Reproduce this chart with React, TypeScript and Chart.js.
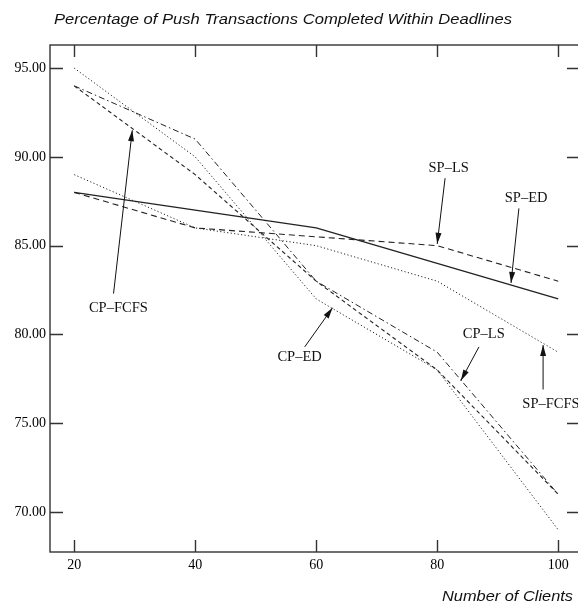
import React, { useEffect, useRef } from "react";
import { Chart, registerables } from "chart.js";

Chart.register(...registerables);

const xValues = [20, 40, 60, 80, 100];
const xTicks = [20, 40, 60, 80, 100];
const yTicks = [70, 75, 80, 85, 90, 95];

const spEd = [88, 87, 86, 84, 82];
const spLs = [88, 86, 85.5, 85, 83];
const spFcfs = [89, 86, 85, 83, 79];
const cpLs = [94, 91, 83, 79, 71];
const cpFcfs = [94, 89, 83, 78, 71];
const cpEd = [95, 90, 82, 78, 69];

const chartTitle = "Percentage of Push Transactions Completed Within Deadlines";
const xAxisTitle = "Number of Clients";

// annotation labels and arrows, in data units
const annotationNames = ["SP-LS", "SP-ED", "CP-FCFS", "CP-ED", "CP-LS", "SP-FCFS"];
const annotationLabelPos = [
  [81.9, 89.37],
  [94.7, 87.7],
  [27.3, 81.5],
  [57.25, 78.7],
  [87.7, 80.0],
  [98.8, 76.1],
];
const annotationArrowStart = [
  [81.3, 88.8],
  [93.5, 87.1],
  [26.5, 82.3],
  [58.1, 79.3],
  [86.9, 79.3],
  [97.5, 76.9],
];
const annotationArrowTip = [
  [80, 85.1],
  [92.2, 82.9],
  [29.6, 91.5],
  [62.7, 81.5],
  [83.9, 77.4],
  [97.5, 79.4],
];

const INK = "#222";

function fittedText(ctx: any, text: string, x: number, y: number, width: number, align: "left" | "right") {
  const w0 = ctx.measureText(text).width;
  const sx = width / w0;
  ctx.save();
  ctx.textAlign = "left";
  ctx.translate(align === "left" ? x : x - width, y);
  ctx.scale(sx, 1);
  ctx.fillText(text, 0, 0);
  ctx.restore();
}

const framePlugin = {
  id: "frame",
  afterDraw(chart: any) {
    const { ctx, chartArea } = chart;
    const xs = chart.scales.x;
    const ys = chart.scales.y;
    const { left, right, top, bottom } = chartArea;
    ctx.save();
    ctx.strokeStyle = "#333";
    ctx.lineWidth = 1.4;
    ctx.strokeRect(left, top, right - left, bottom - top);
    ctx.beginPath();
    xTicks.forEach((v) => {
      const px = Math.round(xs.getPixelForValue(v)) + 0.5;
      ctx.moveTo(px, bottom);
      ctx.lineTo(px, bottom - 12);
      ctx.moveTo(px, top);
      ctx.lineTo(px, top + 12);
    });
    yTicks.forEach((v) => {
      const py = Math.round(ys.getPixelForValue(v)) + 0.5;
      ctx.moveTo(left, py);
      ctx.lineTo(left + 13, py);
      ctx.moveTo(right, py);
      ctx.lineTo(right - 13, py);
    });
    ctx.stroke();

    // annotations
    ctx.fillStyle = "#111";
    ctx.strokeStyle = "#111";
    ctx.lineWidth = 1;
    annotationNames.forEach((name, i) => {
      const sx = xs.getPixelForValue(annotationArrowStart[i][0]);
      const sy = ys.getPixelForValue(annotationArrowStart[i][1]);
      const tx = xs.getPixelForValue(annotationArrowTip[i][0]);
      const ty = ys.getPixelForValue(annotationArrowTip[i][1]);
      ctx.beginPath();
      ctx.moveTo(sx, sy);
      ctx.lineTo(tx, ty);
      ctx.stroke();
      const ang = Math.atan2(ty - sy, tx - sx);
      const len = 11;
      const w = 3;
      const bx = tx - len * Math.cos(ang);
      const by = ty - len * Math.sin(ang);
      ctx.beginPath();
      ctx.moveTo(tx, ty);
      ctx.lineTo(bx + w * Math.sin(ang), by - w * Math.cos(ang));
      ctx.lineTo(bx - w * Math.sin(ang), by + w * Math.cos(ang));
      ctx.closePath();
      ctx.fill();
      ctx.font = "14.5px 'Liberation Serif'";
      ctx.textAlign = "center";
      ctx.textBaseline = "middle";
      ctx.fillText(
        name.replace("-", "\u2013"),
        xs.getPixelForValue(annotationLabelPos[i][0]),
        ys.getPixelForValue(annotationLabelPos[i][1])
      );
    });

    // titles
    ctx.fillStyle = "#111";
    ctx.font = "italic 15px 'Liberation Sans'";
    ctx.textBaseline = "alphabetic";
    fittedText(ctx, chartTitle, 54, 24, 458, "left");
    fittedText(ctx, xAxisTitle, 573, 601, 131, "right");
    ctx.restore();
  },
};

export default function App() {
  const ref = useRef<HTMLCanvasElement | null>(null);
  useEffect(() => {
    if (!ref.current) return;
    const mk = (label: string, data: number[], dash: number[], width = 1) => ({
      label,
      data: data.map((v, i) => ({ x: xValues[i], y: v })),
      borderColor: INK,
      borderWidth: width,
      borderDash: dash,
      pointRadius: 0,
      tension: 0,
      fill: false,
    });
    const chart = new Chart(ref.current, {
      type: "line",
      data: {
        datasets: [
          mk("SP-ED", spEd, [], 1.4),
          mk("SP-LS", spLs, [6, 4], 1.1),
          mk("SP-FCFS", spFcfs, [1.2, 2.3], 1),
          mk("CP-LS", cpLs, [6, 3, 1.5, 3], 1),
          mk("CP-FCFS", cpFcfs, [4, 3], 1.1),
          mk("CP-ED", cpEd, [1.2, 2.3], 1),
        ],
      },
      options: {
        animation: false,
        responsive: false,
        devicePixelRatio: 1,
        layout: { padding: { top: 45, right: 12, left: 0, bottom: 0 } },
        plugins: { legend: { display: false }, tooltip: { enabled: false }, title: { display: false } },
        scales: {
          x: {
            type: "linear",
            min: 16,
            max: 103.6,
            grid: { display: false, drawTicks: false },
            border: { display: false },
            afterBuildTicks: (s: any) => {
              s.ticks = xTicks.map((v) => ({ value: v }));
            },
            afterFit: (s: any) => {
              s.height = 53;
            },
            ticks: {
              autoSkip: false,
              maxRotation: 0,
              padding: 5,
              color: "#000",
              font: { family: "'Liberation Serif'", size: 14 },
              callback: (v: any) => String(v),
            },
          },
          y: {
            type: "linear",
            min: 67.75,
            max: 96.3,
            grid: { display: false, drawTicks: false },
            border: { display: false },
            afterBuildTicks: (s: any) => {
              s.ticks = yTicks.map((v) => ({ value: v }));
            },
            afterFit: (s: any) => {
              s.width = 50;
            },
            ticks: {
              autoSkip: false,
              padding: 4,
              color: "#000",
              font: { family: "'Liberation Serif'", size: 14 },
              callback: (v: any) => Number(v).toFixed(2),
            },
          },
        },
      },
      plugins: [framePlugin],
    } as any);
    return () => chart.destroy();
  }, []);
  return (
    <div
      style={{
        position: "fixed",
        left: 0,
        top: 0,
        width: 578,
        height: 605,
        overflow: "hidden",
        background: "#fff",
      }}
    >
      <canvas ref={ref} width={592} height={605} style={{ width: 592, height: 605, display: "block" }} />
    </div>
  );
}
